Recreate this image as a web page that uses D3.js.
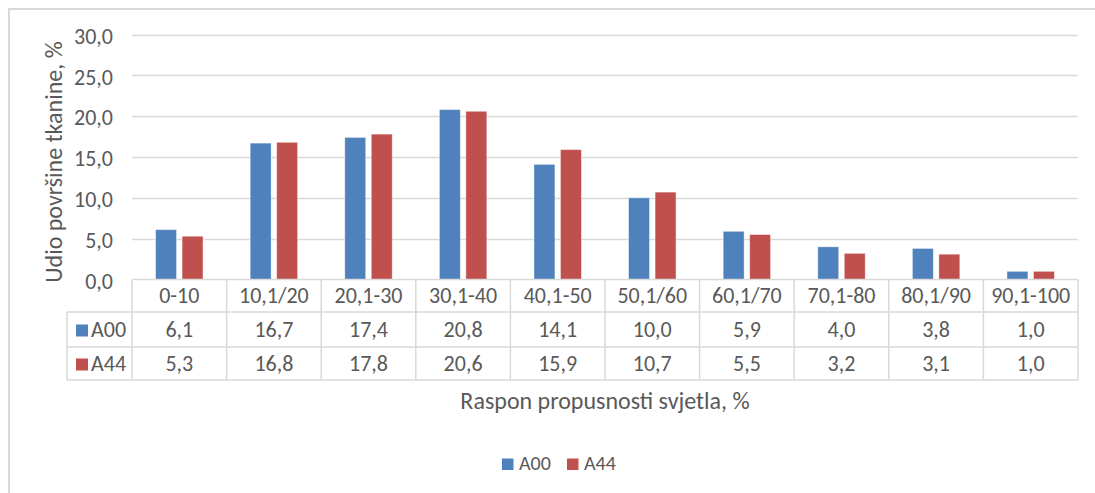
<!DOCTYPE html>
<html>
<head>
<meta charset="utf-8">
<script src="https://cdn.jsdelivr.net/npm/d3@7"></script>
<style>
  html, body { margin: 0; padding: 0; background: #fff; }
  svg text { font-family: Carlito, Calibri, Lato, "Liberation Sans", sans-serif; fill: #595959; }
</style>
</head>
<body>
<svg id="chart" width="1095" height="493"></svg>
<script>
// Category ranges of light transmission (%)
const categories = ["0-10", "10,1/20", "20,1-30", "30,1-40", "40,1-50", "50,1/60", "60,1/70", "70,1-80", "80,1/90", "90,1-100"];
const seriesNames = ["A00", "A44"];
const valuesA00 = [6.1, 16.7, 17.4, 20.8, 14.1, 10.0, 5.9, 4.0, 3.8, 1.0];
const valuesA44 = [5.3, 16.8, 17.8, 20.6, 15.9, 10.7, 5.5, 3.2, 3.1, 1.0];
const yTicks = [0, 5, 10, 15, 20, 25, 30];
const colors = ["#4F81BD", "#C0504D"];

const series = [valuesA00, valuesA44];
const fmt = v => v.toFixed(1).replace(".", ",");

const svg = d3.select("#chart");
const gridColor = "#D9D9D9";

// Chart frame
svg.append("path")
  .attr("d", "M9,493 L9,9 L1095,9")
  .attr("fill", "none")
  .attr("stroke", gridColor)
  .attr("stroke-width", 2);

const plot = { left: 132, right: 1078, top: 34.5, bottom: 279.5 };

const x = d3.scaleBand().domain(categories).range([plot.left, plot.right]).paddingInner(0).paddingOuter(0);
const y = d3.scaleLinear().domain([0, 30]).range([plot.bottom, plot.top]);
const inner = d3.scaleBand().domain(seriesNames).range([0, x.bandwidth()]).paddingInner(0.21).paddingOuter(0.89);

// Gridlines
svg.append("g").selectAll("line")
  .data(yTicks.filter(t => t > 0))
  .join("line")
  .attr("x1", plot.left).attr("x2", plot.right)
  .attr("y1", d => Math.round(y(d)) + 0.5).attr("y2", d => Math.round(y(d)) + 0.5)
  .attr("stroke", gridColor).attr("stroke-width", 1.5);

// Y axis labels
const yAxis = d3.axisLeft(y).tickValues(yTicks).tickFormat(fmt).tickSize(0).tickPadding(19);
const yg = svg.append("g").attr("transform", `translate(${plot.left},0)`).call(yAxis);
yg.select(".domain").remove();
yg.selectAll("text").attr("font-size", 22).attr("fill", "#595959").attr("dy", "0.4em")
  .style("font-family", null);
yg.attr("font-family", null).attr("font-size", null);

// Bars
const groups = svg.append("g").selectAll("g")
  .data(categories)
  .join("g")
  .attr("transform", d => `translate(${x(d)},0)`);

groups.selectAll("rect")
  .data((d, i) => series.map((s, k) => ({ name: seriesNames[k], value: s[i], k })))
  .join("rect")
  .attr("x", d => inner(d.name))
  .attr("width", inner.bandwidth())
  .attr("y", d => y(d.value))
  .attr("height", d => y(0) - y(d.value))
  .attr("fill", d => colors[d.k])
  .attr("stroke", "#fff")
  .attr("stroke-opacity", 0.5)
  .attr("stroke-width", 0.8);

// Data table
const rowTops = [plot.bottom, 312, 347, 380];
const legendLeft = 67;
const table = svg.append("g").attr("stroke", gridColor).attr("stroke-width", 1.5).attr("fill", "none");

// horizontal lines
table.append("line").attr("x1", plot.left).attr("x2", plot.right).attr("y1", rowTops[0]).attr("y2", rowTops[0]);
[1, 2, 3].forEach(r => {
  table.append("line").attr("x1", legendLeft).attr("x2", plot.right).attr("y1", rowTops[r]).attr("y2", rowTops[r]);
});
// vertical lines
const colEdges = categories.map(c => x(c)).concat([plot.right]);
colEdges.forEach(cx => {
  table.append("line").attr("x1", cx).attr("x2", cx).attr("y1", rowTops[0]).attr("y2", rowTops[3]);
});
table.append("line").attr("x1", legendLeft).attr("x2", legendLeft).attr("y1", rowTops[1]).attr("y2", rowTops[3]);

// category header text
svg.append("g").selectAll("text")
  .data(categories)
  .join("text")
  .attr("x", d => x(d) + x.bandwidth() / 2)
  .attr("y", (rowTops[0] + rowTops[1]) / 2)
  .attr("dy", "0.35em")
  .attr("text-anchor", "middle")
  .attr("font-size", 22)
  .text(d => d);

// value rows
series.forEach((s, k) => {
  const cy = (rowTops[k + 1] + rowTops[k + 2]) / 2;
  svg.append("g").selectAll("text")
    .data(s)
    .join("text")
    .attr("x", (d, i) => x(categories[i]) + x.bandwidth() / 2)
    .attr("y", cy)
    .attr("dy", "0.35em")
    .attr("text-anchor", "middle")
    .attr("font-size", 22)
    .text(d => fmt(d));
  svg.append("rect")
    .attr("x", 76).attr("y", cy - 5).attr("width", 12).attr("height", 12)
    .attr("fill", colors[k]);
  svg.append("text")
    .attr("x", 91).attr("y", cy).attr("dy", "0.35em")
    .attr("font-size", 22)
    .text(seriesNames[k]);
});

// Axis titles
svg.append("text")
  .attr("transform", "translate(62,162) rotate(-90)")
  .attr("text-anchor", "middle")
  .attr("font-size", 24)
  .text("Udio površine tkanine, %");

svg.append("text")
  .attr("x", 605).attr("y", 409)
  .attr("text-anchor", "middle")
  .attr("font-size", 24)
  .text("Raspon propusnosti svjetla, %");

// Legend
const legend = svg.append("g").attr("transform", "translate(502,470)");
const legendX = [0, 65];
seriesNames.forEach((n, k) => {
  legend.append("rect").attr("x", legendX[k]).attr("y", -11.5).attr("width", 11.5).attr("height", 11.5).attr("fill", colors[k]);
  legend.append("text").attr("x", legendX[k] + 17).attr("y", 0).attr("font-size", 20).text(n);
});
</script>
</body>
</html>
